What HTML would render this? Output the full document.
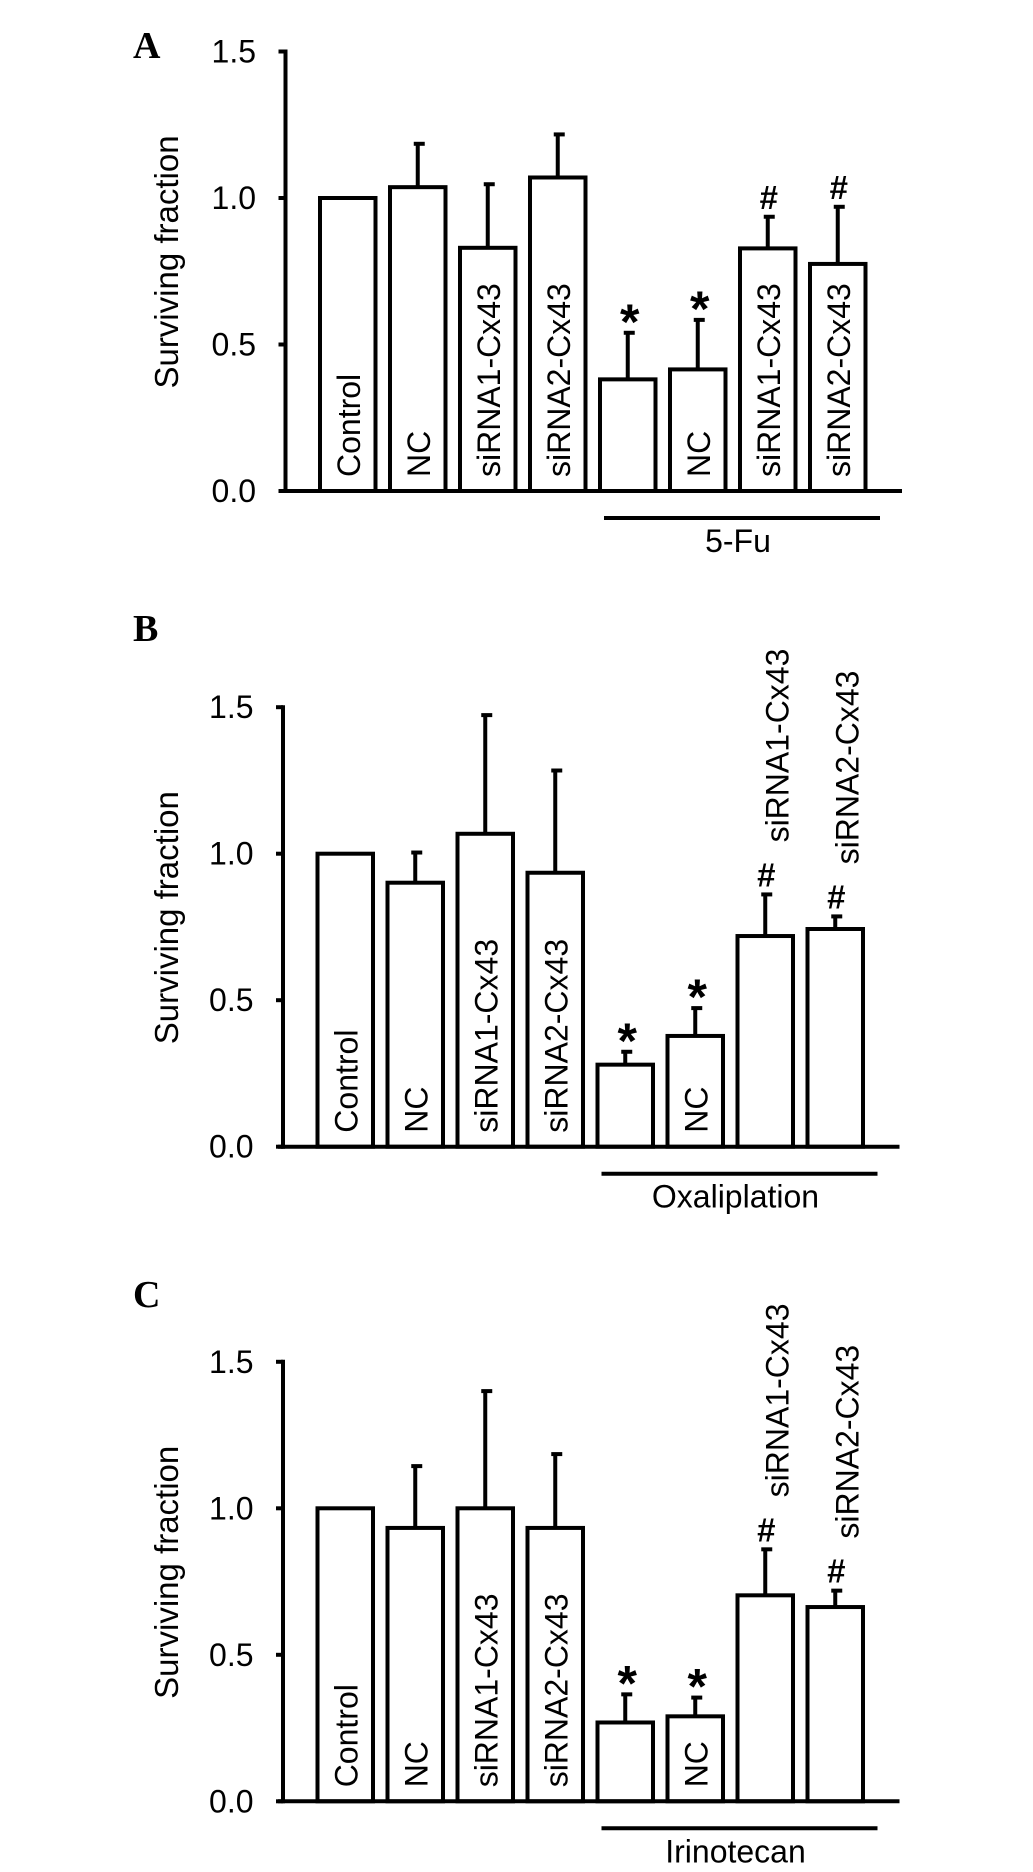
<!DOCTYPE html>
<html><head><meta charset="utf-8">
<style>
html,body{margin:0;padding:0;background:#fff;}
svg{display:block;}
text{font-family:"Liberation Sans",Arial,sans-serif;fill:#000;}
.lt{font-family:"Liberation Serif","Times New Roman",serif;font-weight:bold;}
</style></head>
<body>
<svg id="fig" width="1033" height="1872" viewBox="0 0 1033 1872" xmlns="http://www.w3.org/2000/svg"></svg>
<script>
// ---- data ----
const categories = ["Control","NC","siRNA1-Cx43","siRNA2-Cx43","","NC","siRNA1-Cx43","siRNA2-Cx43"];
const yTicks = [0.0, 0.5, 1.0, 1.5];
const yTickLabels = ["0.0","0.5","1.0","1.5"];
const panelLetters = ["A","B","C"];
const drugNames = ["5-Fu","Oxaliplation","Irinotecan"];
const valuesA = [1.0, 1.037, 0.83, 1.07, 0.381, 0.415, 0.828, 0.775];
const errTopA = [1.0, 1.185, 1.047, 1.217, 0.540, 0.584, 0.936, 0.970];
const valuesB = [1.0, 0.901, 1.068, 0.935, 0.280, 0.378, 0.719, 0.743];
const errTopB = [1.0, 1.004, 1.473, 1.284, 0.324, 0.473, 0.861, 0.786];
const valuesC = [1.0, 0.933, 1.0, 0.933, 0.269, 0.290, 0.703, 0.663];
const errTopC = [1.0, 1.144, 1.40, 1.185, 0.365, 0.354, 0.860, 0.719];
const marksA = ["","","","","*","*","#","#"];
const marksB = ["","","","","*","*","#","#"];
const marksC = ["","","","","*","*","#","#"];
const labelAboveA = [false,false,false,false,false,false,false,false];
const labelAboveB = [false,false,false,false,false,false,true,true];
const labelAboveC = [false,false,false,false,false,false,true,true];

const NS = "http://www.w3.org/2000/svg";
const svg = document.getElementById("fig");
function mk(tag, attrs, parent){
  const e = document.createElementNS(NS, tag);
  for (const k in attrs) e.setAttribute(k, attrs[k]);
  (parent||svg).appendChild(e);
  return e;
}

const panels = [
  {vals: valuesA, errs: errTopA, marks: marksA, above: labelAboveA, y0: 491, dx: 0, letterY: 58},
  {vals: valuesB, errs: errTopB, marks: marksB, above: labelAboveB, y0: 1146.7, dx: -2.5, letterY: 641},
  {vals: valuesC, errs: errTopC, marks: marksC, above: labelAboveC, y0: 1801.3, dx: -2.5, letterY: 1307}
];
const PX_PER_UNIT = 293;

panels.forEach((p, pi) => {
  const g = mk("g", {});
  
  
  const yScale = v => p.y0 - v * PX_PER_UNIT;
  const axisX = 285.5 + p.dx;
  const barX = i => 320 + p.dx + 70 * i;
  const barW = 55.5;

  const L = mk("text", {x: 133, y: p.letterY, "font-size": 38, class: "lt"}, g);
  
  
  L.textContent = panelLetters[pi];

  const ty = yScale(0) - 229;
  const T = mk("text", {x: 0, y: 0, "font-size": 33, "text-anchor": "middle",
    transform: "translate(178," + ty + ") rotate(-90)"}, g);
  
  
  T.textContent = "Surviving fraction";

  p.vals.forEach((v, i) => {
    const x = barX(i), top = yScale(v), cx = x + barW / 2;
    const r = mk("rect", {x: x, y: top, width: barW, height: p.y0 - top, fill: "#fff", stroke: "#000", "stroke-width": 4}, g);
    
    
    const et = yScale(p.errs[i]);
    if (p.errs[i] > v + 0.001) {
      const e1 = mk("line", {x1: cx, x2: cx, y1: top, y2: et, stroke: "#000", "stroke-width": 4}, g);
      
      
      const e2 = mk("line", {x1: cx - 4, x2: cx + 7, y1: et, y2: et, stroke: "#000", "stroke-width": 4}, g);
      
      
    }
    const m = p.marks[i];
    if (m === "*") {
      const s = mk("text", {x: cx + 2, y: et + 6, "font-size": 50, "font-weight": "bold", "text-anchor": "middle"}, g);
      
      
      s.textContent = "*";
    } else if (m === "#") {
      const s = mk("text", {x: cx + 1, y: et - 8, "font-size": 33, "font-weight": "bold", "text-anchor": "middle"}, g);
      
      
      s.textContent = "#";
    }
    if (categories[i]) {
      let startY, bx;
      if (p.above[i]) { startY = et - 52; bx = cx + 23; }
      else { startY = p.y0 - 14; bx = cx + 12; }
      const t = mk("text", {x: 0, y: 0, "font-size": 32, transform: "translate(" + bx + "," + startY + ") rotate(-90)"}, g);
      
      
      t.textContent = categories[i];
    }
  });

  const ax = mk("line", {x1: axisX, x2: axisX, y1: yScale(1.5) - 2, y2: p.y0 + 2, stroke: "#000", "stroke-width": 4}, g);
  
  
  const bx = mk("line", {x1: axisX - 5, x2: 902 + p.dx, y1: p.y0, y2: p.y0, stroke: "#000", "stroke-width": 4}, g);
  
  
  yTicks.forEach((tv, k) => {
    const yy = yScale(tv);
    const tk = mk("line", {x1: axisX - 7, x2: axisX, y1: yy, y2: yy, stroke: "#000", "stroke-width": 4}, g);
    
    
    const tl = mk("text", {x: 256 + p.dx, y: yy + 11, "font-size": 32, "text-anchor": "end"}, g);
    
    
    tl.textContent = yTickLabels[k];
  });

  const br = mk("line", {x1: 604 + p.dx, x2: 880 + p.dx, y1: p.y0 + 27, y2: p.y0 + 27, stroke: "#000", "stroke-width": 4}, g);
  
  
  const dl = mk("text", {x: 738 + p.dx, y: p.y0 + 61, "font-size": 32, "text-anchor": "middle"}, g);
  
  
  dl.textContent = drugNames[pi];
});
</script>
</body></html>
